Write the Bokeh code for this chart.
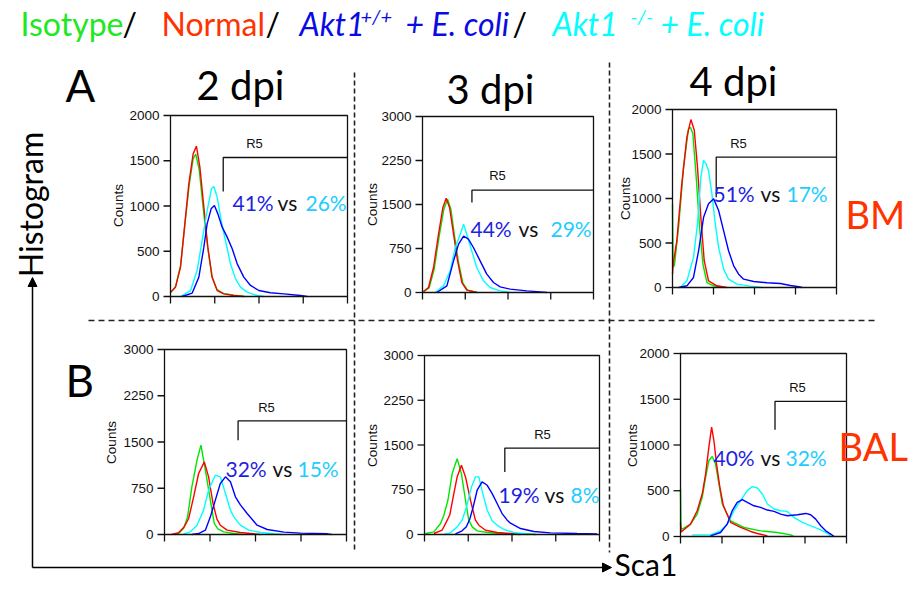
from math import pi
from bokeh.plotting import figure
from bokeh.models import Range1d, Arrow, NormalHead
from bokeh.core.properties import value
from bokeh.embed import file_html
from bokeh.resources import INLINE

# ---------------- data ----------------
XMAX = 1024
x_ticks = [0, 256, 512, 768, 1024]
ticks_2000 = [0, 500, 1000, 1500, 2000]
ticks_3000 = [0, 750, 1500, 2250, 3000]

legend_text = ["Isotype", "/", "Normal", "/", "Akt1", "+/+", "+ E. coli", "/", "Akt1", "-/-", "+ E. coli"]
day_labels = ["2 dpi", "3 dpi", "4 dpi"]
row_labels = ["A", "B"]
tissue_labels = ["BM", "BAL"]
pct_wt = ["41%", "44%", "51%", "32%", "19%", "40%"]
pct_ko = ["26%", "29%", "17%", "15%", "8%", "32%"]

# R5 gate per panel: x position (channel), top and bottom (counts)
gate_x = [305, 296, 273, 414, 470, 583]
gate_top = [1536, 1745, 1466, 1842, 1449, 1477]
gate_bottom = [1160, 1534, 1015, 1529, 1047, 1167]

# --- A, 2 dpi ---
a1_green_x = [0, 29, 58, 83, 108, 131, 146, 166, 189, 214, 239, 268, 306, 366, 430]
a1_green_y = [40, 110, 340, 790, 1230, 1520, 1575, 1400, 980, 560, 225, 80, 35, 15, 0]
a1_red_x = [0, 29, 58, 81, 106, 131, 150, 170, 193, 216, 241, 270, 308, 366, 424]
a1_red_y = [48, 103, 324, 766, 1245, 1576, 1661, 1429, 987, 545, 214, 66, 29, 11, 0]
a1_cyan_x = [58, 116, 154, 183, 212, 237, 251, 270, 293, 318, 347, 376, 405, 443, 501, 540]
a1_cyan_y = [0, 66, 287, 619, 950, 1190, 1215, 1098, 840, 619, 361, 195, 103, 48, 11, 0]
a1_blue_x = [67, 125, 164, 193, 212, 235, 254, 274, 299, 328, 357, 386, 424, 463, 511, 578, 656, 752, 790]
a1_blue_y = [0, 37, 214, 545, 803, 969, 1005, 913, 766, 656, 527, 361, 214, 122, 66, 41, 29, 11, 0]

# --- A, 3 dpi ---
a2_green_x = [6, 40, 70, 100, 128, 150, 170, 192, 216, 242, 270, 330]
a2_green_y = [15, 80, 400, 960, 1420, 1591, 1420, 960, 510, 160, 40, 0]
a2_red_x = [6, 36, 66, 96, 122, 142, 162, 186, 210, 236, 265, 325]
a2_red_y = [17, 85, 426, 994, 1449, 1608, 1449, 994, 540, 170, 40, 0]
a2_cyan_x = [76, 126, 166, 196, 226, 246, 265, 295, 325, 365, 405, 465, 525]
a2_cyan_y = [0, 114, 369, 767, 994, 1165, 994, 710, 426, 199, 85, 28, 0]
a2_blue_x = [86, 146, 186, 216, 246, 275, 305, 345, 385, 425, 465, 525, 625, 705, 745]
a2_blue_y = [0, 114, 540, 824, 960, 909, 767, 540, 313, 170, 97, 57, 28, 11, 0]

# --- A, 4 dpi ---
a3_green_x = [0, 4, 12, 38, 69, 100, 112, 127, 148, 169, 190, 215, 257, 320]
a3_green_y = [940, 230, 250, 677, 1353, 1786, 1800, 1729, 1240, 677, 263, 56, 19, 0]
a3_red_x = [0, 4, 27, 58, 90, 115, 136, 156, 177, 198, 225, 277, 340]
a3_red_y = [150, 260, 526, 1165, 1692, 1887, 1767, 1353, 789, 301, 75, 19, 0]
a3_cyan_x = [48, 90, 131, 156, 177, 194, 209, 225, 246, 267, 288, 319, 350, 403, 486, 560]
a3_cyan_y = [0, 75, 338, 714, 1240, 1428, 1391, 1316, 1053, 714, 451, 207, 94, 38, 15, 0]
a3_blue_x = [38, 90, 131, 163, 194, 225, 257, 288, 319, 350, 382, 413, 444, 507, 590, 674, 736, 789, 810]
a3_blue_y = [0, 19, 113, 413, 789, 940, 996, 865, 639, 413, 244, 150, 94, 68, 53, 45, 23, 8, 0]

# --- B, 2 dpi ---
b1_green_x = [60, 79, 107, 130, 154, 183, 205, 230, 258, 280, 300, 333, 390, 440]
b1_green_y = [0, 16, 97, 286, 773, 1205, 1449, 1043, 557, 180, 90, 43, 16, 0]
b1_red_x = [40, 79, 110, 136, 164, 192, 224, 248, 273, 295, 314, 352, 427, 484, 540]
b1_red_y = [0, 30, 120, 260, 611, 989, 1178, 935, 503, 250, 151, 70, 32, 16, 0]
b1_cyan_x = [107, 145, 183, 220, 248, 286, 314, 343, 371, 390, 427, 474, 540, 615, 660]
b1_cyan_y = [5, 43, 151, 395, 719, 962, 935, 665, 395, 286, 151, 70, 32, 11, 0]
b1_blue_x = [154, 192, 230, 258, 286, 314, 343, 371, 399, 427, 465, 521, 578, 672, 766, 917, 940]
b1_blue_y = [0, 16, 70, 286, 557, 827, 935, 854, 611, 480, 340, 151, 81, 38, 22, 11, 0]

# --- B, 3 dpi ---
b2_green_x = [6, 55, 94, 113, 137, 162, 191, 216, 240, 259, 279, 308, 367, 445, 600, 650]
b2_green_y = [17, 45, 184, 320, 574, 1020, 1271, 1020, 574, 240, 128, 61, 33, 17, 11, 0]
b2_red_x = [55, 103, 133, 148, 168, 191, 216, 240, 269, 298, 318, 357, 425, 503, 560]
b2_red_y = [17, 72, 240, 330, 630, 965, 1160, 965, 574, 240, 156, 72, 33, 17, 0]
b2_cyan_x = [113, 152, 191, 220, 246, 275, 298, 318, 341, 367, 396, 425, 464, 523, 601, 650]
b2_cyan_y = [0, 28, 128, 240, 463, 797, 965, 965, 686, 407, 230, 156, 84, 33, 11, 0]
b2_blue_x = [181, 220, 245, 265, 285, 308, 337, 367, 396, 425, 454, 484, 503, 562, 640, 737, 893, 1010]
b2_blue_y = [11, 61, 130, 260, 463, 742, 881, 825, 686, 519, 351, 240, 190, 100, 50, 28, 17, 11]

# --- B, 4 dpi ---
b3_green_x = [0, 3, 10, 62, 103, 134, 155, 175, 196, 216, 237, 258, 278, 309, 391, 494, 597, 680, 700]
b3_green_y = [520, 100, 80, 135, 245, 428, 647, 830, 874, 793, 574, 355, 282, 172, 99, 62, 44, 18, 0]
b3_red_x = [0, 4, 62, 103, 134, 155, 175, 192, 206, 222, 243, 264, 278, 309, 371, 433, 474, 536]
b3_red_y = [150, 50, 135, 282, 464, 684, 976, 1196, 1049, 793, 537, 340, 282, 154, 99, 55, 33, 7]
b3_cyan_x = [72, 185, 247, 288, 330, 371, 412, 443, 474, 505, 536, 577, 618, 659, 700, 752, 803, 855, 896, 927]
b3_cyan_y = [18, 18, 62, 135, 282, 391, 501, 545, 530, 464, 355, 300, 282, 274, 208, 154, 117, 80, 44, 7]
b3_blue_x = [185, 247, 288, 319, 350, 381, 412, 453, 494, 536, 577, 618, 659, 721, 773, 803, 834, 865, 896, 927, 948]
b3_blue_y = [7, 44, 135, 282, 373, 402, 373, 336, 318, 289, 274, 245, 227, 238, 252, 238, 190, 117, 62, 26, 0]

# ---------------- layout / style ----------------
W, H = 908, 584
C_GREEN, C_RED, C_CYAN, C_BLUE = "#00e600", "#ff0000", "#00ffff", "#0000ff"
BIG = value("Lato")
SMALL = value("Liberation Sans")

p = figure(width=W, height=H, x_range=Range1d(0, W), y_range=Range1d(H, 0),
           output_backend="svg", toolbar_location=None, min_border=0,
           x_axis_location=None, y_axis_location=None)
p.grid.visible = False
p.outline_line_color = None
p.background_fill_color = "white"
p.border_fill_color = "white"

# panel boxes in picture pixels: left, right, top, bottom
boxes = [(170, 347, 115, 296), (422, 593, 116, 292), (672, 836, 109, 287),
         (164, 346, 349, 534), (424, 599, 355, 534), (680, 846, 353, 536)]
panel_ymax = [2000, 3000, 2000, 3000, 3000, 2000]
panel_ticks = [ticks_2000, ticks_3000, ticks_2000, ticks_3000, ticks_3000, ticks_2000]
panel_curves = [
    [(a1_green_x, a1_green_y), (a1_red_x, a1_red_y), (a1_cyan_x, a1_cyan_y), (a1_blue_x, a1_blue_y)],
    [(a2_green_x, a2_green_y), (a2_red_x, a2_red_y), (a2_cyan_x, a2_cyan_y), (a2_blue_x, a2_blue_y)],
    [(a3_green_x, a3_green_y), (a3_red_x, a3_red_y), (a3_cyan_x, a3_cyan_y), (a3_blue_x, a3_blue_y)],
    [(b1_green_x, b1_green_y), (b1_red_x, b1_red_y), (b1_cyan_x, b1_cyan_y), (b1_blue_x, b1_blue_y)],
    [(b2_green_x, b2_green_y), (b2_red_x, b2_red_y), (b2_cyan_x, b2_cyan_y), (b2_blue_x, b2_blue_y)],
    [(b3_green_x, b3_green_y), (b3_red_x, b3_red_y), (b3_cyan_x, b3_cyan_y), (b3_blue_x, b3_blue_y)],
]
curve_colors = [C_GREEN, C_RED, C_CYAN, C_BLUE]

counts_pos = [(118, 205), (372, 204), (625, 198), (111, 442), (372, 445), (632, 445)]
r5_pos = [(254, 143), (497, 175), (738, 143), (266, 407), (542, 434), (797, 387)]
pct_pos = [((232, 277, 305), 202), ((470, 518, 550), 228), ((713, 760, 786), 193),
           ((225, 272, 297), 468), ((498, 544, 570), 494), ((713, 760, 785), 457)]

for i in range(6):
    L, R, T, B = boxes[i]
    ymax = panel_ymax[i]
    name = "panel%d" % i
    kx = XMAX / (R - L)
    ky = ymax / (B - T)
    p.extra_x_ranges[name] = Range1d(-L * kx, XMAX + (W - R) * kx)
    p.extra_y_ranges[name] = Range1d(-(H - B) * ky, ymax + T * ky)
    kw = dict(x_range_name=name, y_range_name=name)

    for (cx, cy), col in zip(panel_curves[i], curve_colors):
        p.line(cx, cy, line_color=col, line_width=1.4, **kw)

    p.quad(left=[0], right=[XMAX], bottom=[0], top=[ymax], fill_alpha=0,
           line_color="#111111", line_width=1.3, **kw)
    yt = panel_ticks[i]
    p.ray(x=[0] * len(yt), y=yt, length=7, length_units="screen", angle=pi,
          line_color="#111111", line_width=1.3, **kw)
    p.ray(x=x_ticks, y=[0] * len(x_ticks), length=7, length_units="screen", angle=-pi / 2,
          line_color="#111111", line_width=1.3, **kw)
    p.text(x=[0] * len(yt), y=yt, text=[str(t) for t in yt], x_offset=-11,
           text_align="right", text_baseline="middle", text_font=SMALL,
           text_font_size="13.5px", text_color="#111111", **kw)

    # R5 gate
    p.line([gate_x[i], gate_x[i], XMAX], [gate_bottom[i], gate_top[i], gate_top[i]],
           line_color="#111111", line_width=1.3, **kw)

    cxp, cyp = counts_pos[i]
    p.text(x=[cxp], y=[cyp], text=["Counts"], angle=pi / 2, text_align="center",
           text_baseline="middle", text_font=SMALL, text_font_size="13.5px", text_color="#111111")
    rx, ry = r5_pos[i]
    p.text(x=[rx], y=[ry], text=["R5"], text_align="center", text_baseline="middle",
           text_font=SMALL, text_font_size="13px", text_color="#111111")
    (x1, x2, x3), cy_ = pct_pos[i]
    p.text(x=[x1], y=[cy_], text=[pct_wt[i]], text_font=BIG, text_font_size="21px",
           text_color="#1f1fe0", text_baseline="middle")
    p.text(x=[x2], y=[cy_], text=["vs"], text_font=BIG, text_font_size="21px",
           text_color="#111111", text_baseline="middle")
    p.text(x=[x3], y=[cy_], text=[pct_ko[i]], text_font=BIG, text_font_size="21px",
           text_color="#22ccff", text_baseline="middle")

# separators
p.segment(x0=[354, 609], y0=[72, 62], x1=[354, 609], y1=[552, 552],
          line_color="#222222", line_width=1.6, line_dash="5 3")
p.segment(x0=[88], y0=[320], x1=[876], y1=[320],
          line_color="#222222", line_width=1.4, line_dash="6 4")

# axes arrows
p.add_layout(Arrow(end=NormalHead(size=9, fill_color="black", line_color="black", line_width=1),
                   x_start=32, y_start=567, x_end=32, y_end=277, line_width=1.5, line_color="black"))
p.add_layout(Arrow(end=NormalHead(size=9, fill_color="black", line_color="black", line_width=1),
                   x_start=32, y_start=567, x_end=611, y_end=567, line_width=1.5, line_color="black"))

p.text(x=[30], y=[204], text=["Histogram"], angle=pi / 2, text_align="center",
       text_baseline="middle", text_font=BIG, text_font_size="32px", text_color="black")
p.text(x=[614], y=[563], text=["Sca1"], text_font=BIG, text_font_size="30px",
       text_color="black", text_baseline="middle")

# big labels
p.text(x=[65, 65], y=[84, 379], text=row_labels, text_font=BIG, text_font_size="44px",
       text_color="black", text_baseline="middle")
p.text(x=[240, 490, 733], y=[84, 88, 80], text=day_labels, text_font=BIG,
       text_font_size="40px", text_color="black", text_align="center", text_baseline="middle")
p.text(x=[845, 838], y=[213, 445], text=tissue_labels, text_font=BIG, text_font_size="38px",
       text_color="#ff3300", text_baseline="middle")

# title legend
leg_x = [20, 122, 161, 265, 299, 360, 405, 512, 552, 630, 660]
leg_y = [23, 23, 23, 23, 23, 15, 23, 23, 23, 15, 23]
leg_size = ["32px", "32px", "32px", "32px", "32px", "20px", "32px", "32px", "32px", "20px", "32px"]
leg_color = ["#1ee81e", "black", "#ff3300", "black", "#0a0ae6", "#0a0ae6", "#0a0ae6",
             "black", "#00ffff", "#00ffff", "#00ffff"]
leg_style = ["normal", "normal", "normal", "normal", "italic", "italic", "italic",
             "normal", "italic", "italic", "italic"]
for t, x, y, s, c, st in zip(legend_text, leg_x, leg_y, leg_size, leg_color, leg_style):
    p.text(x=[x], y=[y], text=[t], text_font=BIG, text_font_size=s, text_color=c,
           text_font_style=st, text_baseline="middle")

open("out.html", "w").write(file_html(p, INLINE))
